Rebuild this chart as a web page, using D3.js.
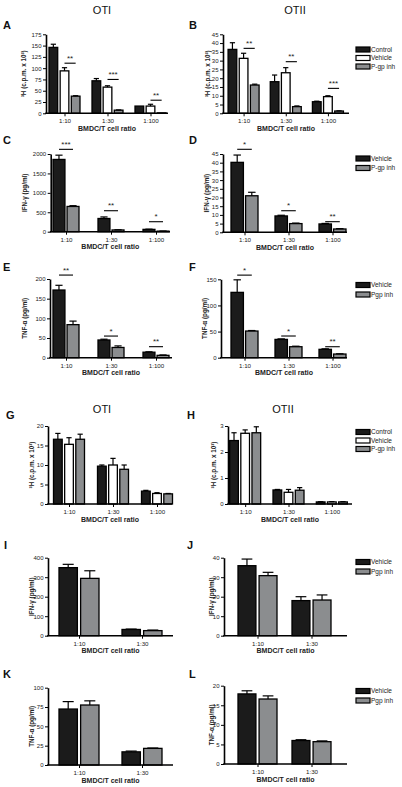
<!DOCTYPE html>
<html><head><meta charset="utf-8">
<script src="https://cdn.jsdelivr.net/npm/d3@7"></script>
<style>body{margin:0;background:#fff}text{font-family:"Liberation Sans",Arial,sans-serif}</style>
</head><body>
<script>
// ---------- DATA ----------
const groups3 = ["1:10", "1:30", "1:100"];
const groups2 = ["1:10", "1:30"];
const series3 = ["Control", "Vehicle", "P-gp inh"];
const series2a = ["Vehicle", "P-gp inh"];
const series2b = ["Vehicle", "Pgp inh"];

// A (OTI proliferation)
const A_vals = [[146, 72, 16], [94, 58, 16], [38, 7, 1]];
const A_errs = [[7, 5, 0], [7, 3, 4], [1, 0.5, 0]];
const A_sig = [[111, "**"], [75, "***"], [29, "**"]];
const A_ticks = [0, 25, 50, 75, 100, 125, 150, 175];
// B (OTII proliferation)
const B_vals = [[36.4, 18, 6.6], [31.3, 23.1, 9.5], [16.1, 3.8, 1.3]];
const B_errs = [[3.8, 3.8, 0.3], [2.9, 2.9, 0.5], [0.5, 0.4, 0.1]];
const B_sig = [[37, "**"], [29.4, "**"], [14.2, "***"]];
const B_ticks = [0, 5, 10, 15, 20, 25, 30, 35, 40, 45];
// C (OTI IFN-γ)
const C_vals = [[1860, 340, 60], [650, 45, 15]];
const C_errs = [[110, 40, 5], [20, 5, 2]];
const C_sig = [[2120, "***"], [540, "**"], [257, "*"]];
const C_ticks = [0, 500, 1000, 1500, 2000];
// D (OTII IFN-γ)
const D_vals = [[40.2, 9.4, 4.8], [21, 5, 1.9]];
const D_errs = [[4.2, 0.4, 0.3], [2, 0.3, 0.2]];
const D_sig = [[47.7, "*"], [12.4, "*"], [6.1, "**"]];
const D_ticks = [0, 5, 10, 15, 20, 25, 30, 35, 40, 45];
// E (OTI TNF-α)
const E_vals = [[172, 45, 14], [84, 26, 6]];
const E_errs = [[12, 2, 1], [9, 4, 1]];
const E_sig = [[210, "**"], [55, "*"], [28, "**"]];
const E_ticks = [0, 50, 100, 150, 200];
// F (OTII TNF-α)
const F_vals = [[125, 35, 16], [51, 21, 7]];
const F_errs = [[24, 1, 1], [1, 1, 0.5]];
const F_sig = [[158, "*"], [41.5, "*"], [21, "**"]];
const F_ticks = [0, 50, 100, 150];
// G (OTI proliferation, second experiment)
const G_vals = [[16.6, 9.7, 3.3], [15.3, 10, 2.7], [16.6, 8.9, 2.6]];
const G_errs = [[1.5, 0.3, 0.2], [1.7, 1.7, 0.2], [1.3, 1.1, 0.1]];
const G_ticks = [0, 5, 10, 15, 20];
// H (OTII proliferation, second experiment)
const H_vals = [[2.44, 0.54, 0.08], [2.72, 0.45, 0.08], [2.74, 0.53, 0.08]];
const H_errs = [[0.3, 0.02, 0.01], [0.13, 0.11, 0.01], [0.23, 0.1, 0.01]];
const H_ticks = [0, 1, 2, 3];
// I (OTI IFN-γ)
const I_vals = [[349, 32], [294, 26]];
const I_errs = [[17, 2], [39, 3]];
const I_ticks = [0, 100, 200, 300, 400];
// J (OTII IFN-γ)
const J_vals = [[35.9, 18], [30.8, 18.3]];
const J_errs = [[3.4, 2], [1.7, 2.6]];
const J_ticks = [0, 10, 20, 30, 40];
// K (OTI TNF-α)
const K_vals = [[72.4, 17], [77.6, 21.5]];
const K_errs = [[9.6, 1], [5.4, 0.5]];
const K_ticks = [0, 25, 50, 75, 100];
// L (OTII TNF-α)
const L_vals = [[17.9, 6], [16.6, 5.7]];
const L_errs = [[0.8, 0.2], [0.8, 0.2]];
const L_ticks = [0, 5, 10, 15, 20];

const yLabelH = "³H (c.p.m. x 10³)";
const yLabelIFN = "IFN-γ (pg/ml)";
const yLabelTNF = "TNF-α (pg/ml)";
const xLabel = "BMDC/T cell ratio";

// ---------- DRAW ----------
const BLACK = "#1b1b1b", WHITE = "#ffffff", GRAY = "#8b8d8f";
const colors3 = [BLACK, WHITE, GRAY];
const colors2 = [BLACK, GRAY];

const svg = d3.select("body").append("svg").attr("width", 402).attr("height", 787);

function drawPanel(p) {
  const g = svg.append("g");
  const max = p.ticks[p.ticks.length - 1];
  const y = d3.scaleLinear().domain([0, max]).range([p.y0, p.yTop]);
  const x0 = d3.scalePoint().domain(p.cats).range(p.gRange).padding(0.5);
  const x1 = d3.scaleBand().domain(p.series).range([-p.gw / 2, p.gw / 2]).paddingInner(p.pad);
  const bw = x1.bandwidth();

  // bars + error bars
  p.series.forEach((s, si) => {
    p.cats.forEach((c, ci) => {
      const v = p.vals[si][ci], e = p.errs[si][ci];
      const bx = x0(c) + x1(s);
      g.append("rect").attr("x", bx).attr("y", y(v)).attr("width", bw)
        .attr("height", Math.max(0, y(0) - y(v))).attr("fill", p.colors[si])
        .attr("stroke", "#000").attr("stroke-width", 1.3);
      if (e > 0) {
        const cx = bx + bw / 2;
        g.append("line").attr("x1", cx).attr("x2", cx).attr("y1", y(v)).attr("y2", y(v + e))
          .attr("stroke", "#000").attr("stroke-width", 1.2);
        g.append("line").attr("x1", cx - bw * 0.3).attr("x2", cx + bw * 0.3)
          .attr("y1", y(v + e)).attr("y2", y(v + e)).attr("stroke", "#000").attr("stroke-width", 1.2);
      }
    });
  });

  // left axis
  const ax = g.append("g").attr("transform", `translate(${p.axX},0)`)
    .call(d3.axisLeft(y).tickValues(p.ticks).tickFormat(d => String(d))
      .tickSize(3).tickSizeOuter(0).tickPadding(1.5));
  ax.select(".domain").attr("stroke", "#000").attr("stroke-width", 1.6);
  ax.selectAll(".tick line").attr("stroke", "#000").attr("stroke-width", 1);
  ax.selectAll(".tick text").attr("font-size", 6).attr("fill", "#222");

  // bottom axis
  g.append("line").attr("x1", p.axX - 0.8).attr("x2", p.axEnd).attr("y1", p.y0).attr("y2", p.y0)
    .attr("stroke", "#000").attr("stroke-width", 1.6);
  const bx = g.append("g").attr("transform", `translate(0,${p.y0})`)
    .call(d3.axisBottom(x0).tickSize(3).tickSizeOuter(0).tickPadding(2.5));
  bx.select(".domain").remove();
  bx.selectAll(".tick line").attr("stroke", "#000").attr("stroke-width", 1);
  bx.selectAll(".tick text").attr("font-size", 6.2).attr("fill", "#222");

  // axis titles
  g.append("text").attr("x", (p.axX + p.axEnd) / 2).attr("y", p.y0 + 17.5)
    .attr("text-anchor", "middle").attr("font-size", 7).attr("font-weight", "bold")
    .attr("fill", "#222").text(xLabel);
  g.append("text").attr("transform", `translate(${p.ylx},${(p.y0 + p.yTop) / 2}) rotate(-90)`)
    .attr("text-anchor", "middle").attr("dy", "0.35em").attr("font-size", 6.3)
    .attr("font-weight", "bold").attr("fill", "#222").text(p.ylabel);

  // significance
  if (p.sig) {
    const n = p.series.length;
    p.cats.forEach((c, ci) => {
      const [sv, st] = p.sig[ci];
      const xa = x0(c) + x1(p.series[n - 2]) + bw / 2;
      const xb = x0(c) + x1(p.series[n - 1]) + bw / 2;
      g.append("line").attr("x1", xa).attr("x2", xb).attr("y1", y(sv)).attr("y2", y(sv))
        .attr("stroke", "#000").attr("stroke-width", 1.1);
      g.append("text").attr("x", (xa + xb) / 2).attr("y", y(sv) - 2.5).attr("text-anchor", "middle")
        .attr("font-size", 8).attr("fill", "#222").text(st);
    });
  }

  // panel letter
  g.append("text").attr("x", p.letter[1]).attr("y", p.letter[2]).attr("font-size", 11)
    .attr("font-weight", "bold").attr("fill", "#111").text(p.letter[0]);

  // legend
  if (p.legend) {
    p.series.forEach((s, si) => {
      const ly = p.legend[1] + si * p.legend[2];
      g.append("rect").attr("x", p.legend[0]).attr("y", ly - 2.5).attr("width", 14).attr("height", 5)
        .attr("fill", p.colors[si]).attr("stroke", "#000").attr("stroke-width", 1.2);
      g.append("text").attr("x", p.legend[0] + 15).attr("y", ly).attr("dy", "0.35em")
        .attr("font-size", 6.5).attr("fill", "#222").text(s);
    });
  }
}

function title(t, x, yy) {
  svg.append("text").attr("x", x).attr("y", yy).attr("text-anchor", "middle")
    .attr("font-size", 11).attr("fill", "#111").text(t);
}

title("OTI", 102, 14);
title("OTII", 295, 14);
title("OTI", 102, 413);
title("OTII", 283, 413);

drawPanel({cats: groups3, series: series3, vals: A_vals, errs: A_errs, sig: A_sig, ticks: A_ticks, colors: colors3,
  y0: 113.3, yTop: 34.3, axX: 46, axEnd: 168, gRange: [43, 172], gw: 31, pad: 0.22, ylx: 24, ylabel: yLabelH, letter: ["A", 3, 29]});
drawPanel({cats: groups3, series: series3, vals: B_vals, errs: B_errs, sig: B_sig, ticks: B_ticks, colors: colors3,
  y0: 113.3, yTop: 34.3, axX: 223, axEnd: 349, gRange: [222.5, 349], gw: 31, pad: 0.22, ylx: 208, ylabel: yLabelH, letter: ["B", 189, 29],
  legend: [356, 49.5, 8.5]});
drawPanel({cats: groups3, series: series2a, vals: C_vals, errs: C_errs, sig: C_sig, ticks: C_ticks, colors: colors2,
  y0: 231.7, yTop: 154, axX: 50.7, axEnd: 170, gRange: [43.5, 178.5], gw: 26, pad: 0.15, ylx: 25, ylabel: yLabelIFN, letter: ["C", 3, 144]});
drawPanel({cats: groups3, series: series2a, vals: D_vals, errs: D_errs, sig: D_sig, ticks: D_ticks, colors: colors2,
  y0: 232.3, yTop: 154, axX: 223, axEnd: 347, gRange: [222.5, 354.5], gw: 27, pad: 0.15, ylx: 207, ylabel: yLabelIFN, letter: ["D", 189, 144],
  legend: [356, 158.5, 9.5]});
drawPanel({cats: groups3, series: series2b, vals: E_vals, errs: E_errs, sig: E_sig, ticks: E_ticks, colors: colors2,
  y0: 357.7, yTop: 279, axX: 50, axEnd: 172, gRange: [43.5, 178.5], gw: 26, pad: 0.15, ylx: 25, ylabel: yLabelTNF, letter: ["E", 3, 271]});
drawPanel({cats: groups3, series: series2b, vals: F_vals, errs: F_errs, sig: F_sig, ticks: F_ticks, colors: colors2,
  y0: 357.7, yTop: 279.3, axX: 221, axEnd: 347, gRange: [222.5, 354.5], gw: 27, pad: 0.15, ylx: 205, ylabel: yLabelTNF, letter: ["F", 189, 271],
  legend: [356, 285, 9.5]});
drawPanel({cats: groups3, series: series3, vals: G_vals, errs: G_errs, ticks: G_ticks, colors: colors3,
  y0: 504, yTop: 426, axX: 48, axEnd: 172, gRange: [47, 179], gw: 31, pad: 0.22, ylx: 32, ylabel: yLabelH, letter: ["G", 6, 419]});
drawPanel({cats: groups3, series: series3, vals: H_vals, errs: H_errs, ticks: H_ticks, colors: colors3,
  y0: 504, yTop: 426, axX: 228, axEnd: 352, gRange: [223.5, 353.5], gw: 31, pad: 0.22, ylx: 214, ylabel: yLabelH, letter: ["H", 187, 419],
  legend: [356, 432, 8.5]});
drawPanel({cats: groups2, series: series2b, vals: I_vals, errs: I_errs, ticks: I_ticks, colors: colors2,
  y0: 635.7, yTop: 557.7, axX: 48, axEnd: 173, gRange: [47.5, 173.5], gw: 40, pad: 0.15, ylx: 32, ylabel: yLabelIFN, letter: ["I", 4, 549]});
drawPanel({cats: groups2, series: series2b, vals: J_vals, errs: J_errs, ticks: J_ticks, colors: colors2,
  y0: 635.7, yTop: 557.7, axX: 224, axEnd: 347, gRange: [230.5, 338.5], gw: 39, pad: 0.15, ylx: 212, ylabel: yLabelIFN, letter: ["J", 187, 549],
  legend: [356, 562, 9.5]});
drawPanel({cats: groups2, series: series2b, vals: K_vals, errs: K_errs, ticks: K_ticks, colors: colors2,
  y0: 765, yTop: 687.7, axX: 48, axEnd: 173, gRange: [47.5, 173.5], gw: 40, pad: 0.15, ylx: 32, ylabel: yLabelTNF, letter: ["K", 3, 678]});
drawPanel({cats: groups2, series: series2b, vals: L_vals, errs: L_errs, ticks: L_ticks, colors: colors2,
  y0: 764, yTop: 685.7, axX: 224, axEnd: 347, gRange: [230.5, 338.5], gw: 39, pad: 0.15, ylx: 212, ylabel: yLabelTNF, letter: ["L", 189, 678],
  legend: [356, 691, 9.5]});
</script>
</body></html>
